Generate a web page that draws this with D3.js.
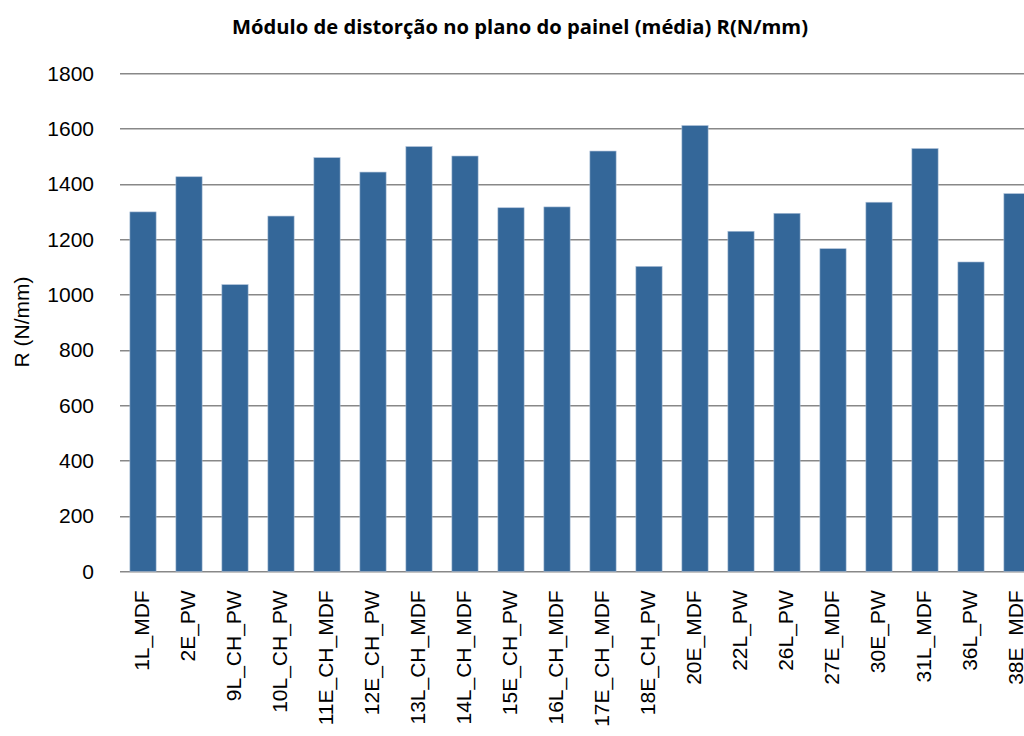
<!DOCTYPE html>
<html>
<head>
<meta charset="utf-8">
<script src="https://cdn.jsdelivr.net/npm/d3@7"></script>
<style>
  body { margin: 0; background: #fff; }
  svg { display: block; }
</style>
</head>
<body>
<div id="chart"></div>
<script>
const categories = ['1L_MDF', '2E_PW', '9L_CH_PW', '10L_CH_PW', '11E_CH_MDF', '12E_CH_PW',
  '13L_CH_MDF', '14L_CH_MDF', '15E_CH_PW', '16L_CH_MDF', '17E_CH_MDF', '18E_CH_PW',
  '20E_MDF', '22L_PW', '26L_PW', '27E_MDF', '30E_PW', '31L_MDF', '36L_PW', '38E_MDF'];
const values = [1299, 1426, 1036, 1284, 1495, 1443, 1535, 1501, 1314, 1317,
  1519, 1102, 1611, 1229, 1294, 1166, 1334, 1528, 1118, 1365];
const yTicks = [0, 200, 400, 600, 800, 1000, 1200, 1400, 1600, 1800];

const title = 'Módulo de distorção no plano do painel (média) R(N/mm)';
const yTitle = 'R (N/mm)';

const width = 1024;
const height = 736;
const margin = { top: 73.3, left: 120, bottom: 736 - 571.3 };
const plotW = 920; // runs past the right edge, like the reference
const innerH = height - margin.top - margin.bottom;

const svg = d3.select('#chart')
  .append('svg')
  .attr('width', width)
  .attr('height', height);

const g = svg.append('g')
  .attr('transform', `translate(${margin.left},${margin.top})`);

const x = d3.scaleBand()
  .domain(categories)
  .range([0, plotW])
  .paddingInner(0.43)
  .paddingOuter(0.215);

const y = d3.scaleLinear()
  .domain([0, 1800])
  .range([innerH, 0]);

// gridlines
g.append('g')
  .selectAll('line')
  .data(yTicks)
  .enter()
  .append('line')
  .attr('x1', 0)
  .attr('x2', plotW)
  .attr('y1', d => Math.round(y(d)) + 0.5)
  .attr('y2', d => Math.round(y(d)) + 0.5)
  .attr('stroke', '#888')
  .attr('stroke-width', 1.4);

// bars
g.selectAll('rect.bar')
  .data(values)
  .enter()
  .append('rect')
  .attr('class', 'bar')
  .attr('x', (_, i) => x(categories[i]))
  .attr('y', d => y(d))
  .attr('width', x.bandwidth())
  .attr('height', d => innerH - y(d))
  .attr('fill', '#346799')
  .attr('stroke', '#a9bdd6')
  .attr('stroke-width', 0.6);

// y axis
const yAxis = g.append('g')
  .call(d3.axisLeft(y).tickValues(yTicks).tickFormat(d3.format('d')).tickSize(0).tickPadding(26));
yAxis.select('.domain').remove();
yAxis.selectAll('text')
  .attr('font-family', '"Liberation Sans", Arial, sans-serif')
  .attr('font-size', '21px')
  .attr('fill', '#000');

// x axis
const xAxis = g.append('g')
  .attr('transform', `translate(0,${innerH})`)
  .call(d3.axisBottom(x).tickSize(0));
xAxis.select('.domain').remove();
xAxis.selectAll('text')
  .attr('font-family', '"Liberation Sans", Arial, sans-serif')
  .attr('font-size', '21px')
  .attr('fill', '#000')
  .attr('text-anchor', 'end')
  .attr('transform', 'rotate(-90)')
  .attr('x', -19)
  .attr('y', -2)
  .attr('dy', '0.36em');

// title
svg.append('text')
  .attr('x', 520)
  .attr('y', 34)
  .attr('text-anchor', 'middle')
  .attr('font-family', '"Open Sans", sans-serif')
  .attr('font-weight', 'bold')
  .attr('font-size', '19px')
  .attr('textLength', 576)
  .attr('lengthAdjust', 'spacingAndGlyphs')
  .attr('fill', '#000')
  .text(title);

// y axis title
svg.append('text')
  .attr('transform', `translate(29,${322}) rotate(-90)`)
  .attr('text-anchor', 'middle')
  .attr('font-family', '"Liberation Sans", Arial, sans-serif')
  .attr('font-size', '21px')
  .attr('fill', '#000')
  .text(yTitle);
</script>
</body>
</html>
